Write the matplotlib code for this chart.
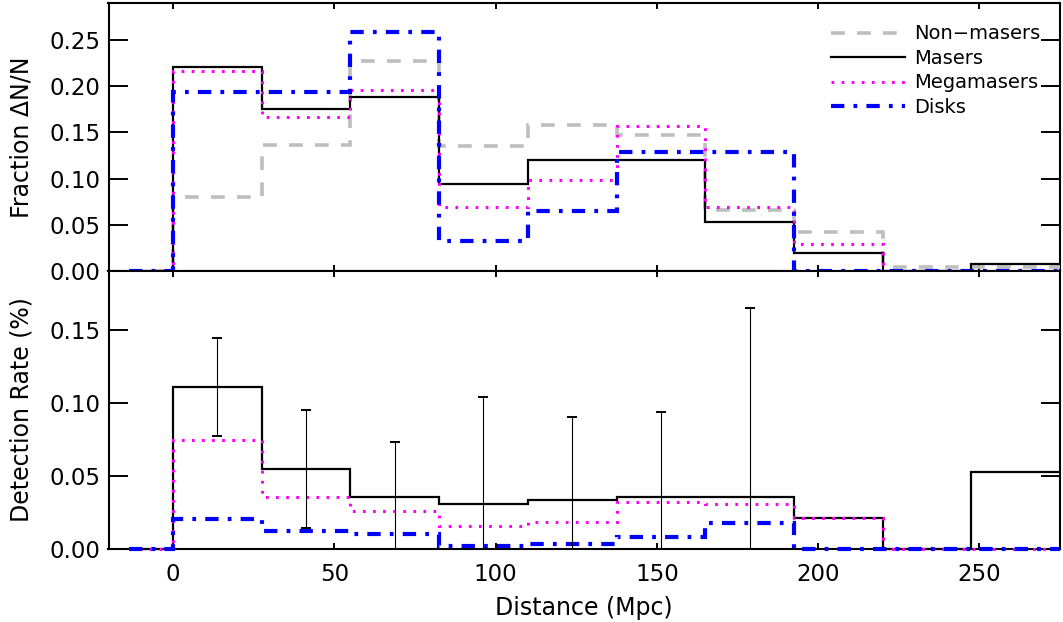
import matplotlib
matplotlib.use("Agg")
import matplotlib.pyplot as plt
import numpy as np

# ── data ──────────────────────────────────────────────────────────────────────
bin_edges = [-13.75, 0, 27.5, 55, 82.5, 110, 137.5, 165, 192.5, 220, 247.5, 275]

frac_nonmasers = [0, 0.080, 0.136, 0.227, 0.135, 0.158, 0.147, 0.066, 0.042, 0.004, 0.004]
frac_masers = [0, 0.221, 0.175, 0.188, 0.094, 0.120, 0.120, 0.053, 0.020, 0.000, 0.0074]
frac_mega = [0, 0.216, 0.167, 0.196, 0.069, 0.098, 0.157, 0.069, 0.029, 0.000, 0.000]
frac_disks = [0, 0.194, 0.194, 0.259, 0.032, 0.065, 0.129, 0.129, 0.000, 0.000, 0.000]

rate_masers = [0, 0.111, 0.0546, 0.0358, 0.0305, 0.0335, 0.0358, 0.0354, 0.0215, 0.000, 0.0527]
rate_mega = [0, 0.0747, 0.0358, 0.0257, 0.0155, 0.0185, 0.0319, 0.0310, 0.0215, 0.000, 0.000]
rate_disks = [0, 0.0206, 0.0125, 0.0102, 0.0023, 0.0035, 0.0081, 0.0176, 0.000, 0.000, 0.000]

# error bars on the maser detection rate (first seven distance bins)
rate_err = [0.0335, 0.0405, 0.037, 0.0735, 0.057, 0.0576, 0.129]

labels = ["Non\u2212masers", "Masers", "Megamasers", "Disks"]

# ── styles ────────────────────────────────────────────────────────────────────
STY_NON = dict(color="#BEBEBE", lw=2.6, ls=(0, (3.8, 3.4)))
STY_MAS = dict(color="black", lw=1.6, ls="solid")
STY_MEGA = dict(color="#FF00FF", lw=2.2, ls=(0, (0.9, 2.4)))
STY_DISK = dict(color="#0000FF", lw=3.0, ls=(0, (3.2, 2.2, 0.9, 2.2)))

plt.rcParams["font.family"] = "DejaVu Sans"
plt.rcParams["font.size"] = 14

fig = plt.figure(figsize=(10.63, 6.22), dpi=100)
W, H = 1063, 622
x0, x1 = 108.5, 1060
ax_top = fig.add_axes([x0 / W, 1 - 271 / H, (x1 - x0) / W, 268 / H])
ax_bot = fig.add_axes([x0 / W, 1 - 549 / H, (x1 - x0) / W, 278 / H], sharex=ax_top)


def style_axes(ax):
    for s in ax.spines.values():
        s.set_linewidth(1.5)
    ax.tick_params(axis="both", direction="in", top=True, right=True,
                   width=1.4, labelsize=16.5)
    ax.tick_params(axis="y", length=13.5, pad=6)
    ax.tick_params(axis="x", length=4.5, pad=10)


edges = np.array(bin_edges)

# ── top panel: fractional distributions ──────────────────────────────────────
for vals, sty, lab in zip([frac_nonmasers, frac_masers, frac_mega, frac_disks],
                          [STY_NON, STY_MAS, STY_MEGA, STY_DISK], labels):
    ax_top.stairs(vals, edges, baseline=None, label=lab, zorder=3,
                  clip_on=False, **sty)

ax_top.set_ylim(0, 0.29)
ax_top.set_yticks([0, 0.05, 0.10, 0.15, 0.20, 0.25])
ax_top.set_yticklabels(["0.00", "0.05", "0.10", "0.15", "0.20", "0.25"])
ax_top.set_ylabel("Fraction \u0394N/N", fontsize=17)
style_axes(ax_top)
ax_top.tick_params(axis="x", labelbottom=False)

leg_handles = [plt.Line2D([0], [0], **s) for s in (STY_NON, STY_MAS, STY_MEGA, STY_DISK)]
ax_top.legend(leg_handles, labels, loc="upper left", bbox_to_anchor=(0.759, 0.92),
              frameon=False, borderpad=0, borderaxespad=0, handlelength=3.8,
              handletextpad=0.5, labelspacing=0.28, fontsize=14)

# ── bottom panel: detection rates ────────────────────────────────────────────
for vals, sty in zip([rate_masers, rate_mega, rate_disks], [STY_MAS, STY_MEGA, STY_DISK]):
    ax_bot.stairs(vals, edges, baseline=None, zorder=3, clip_on=False, **sty)

centers = (edges[1:-1] + edges[2:]) / 2
n_err = len(rate_err)
ax_bot.errorbar(centers[:n_err], rate_masers[1:n_err + 1], yerr=rate_err,
                fmt="none", ecolor="black", elinewidth=0.8, capsize=3.6,
                capthick=1.4, zorder=4)

ax_bot.set_ylim(0, 0.19)
ax_bot.set_yticks([0, 0.05, 0.10, 0.15])
ax_bot.set_yticklabels(["0.00", "0.05", "0.10", "0.15"])
ax_bot.set_xlim(-20, 275)
ax_bot.set_xticks([0, 50, 100, 150, 200, 250])
ax_bot.set_ylabel("Detection Rate (%)", fontsize=17)
ax_bot.set_xlabel("Distance (Mpc)", fontsize=17, labelpad=7)
style_axes(ax_bot)

for ax in (ax_top, ax_bot):
    ax.yaxis.set_label_coords(-0.079, 0.5)

fig.savefig("out.png", dpi=100)
